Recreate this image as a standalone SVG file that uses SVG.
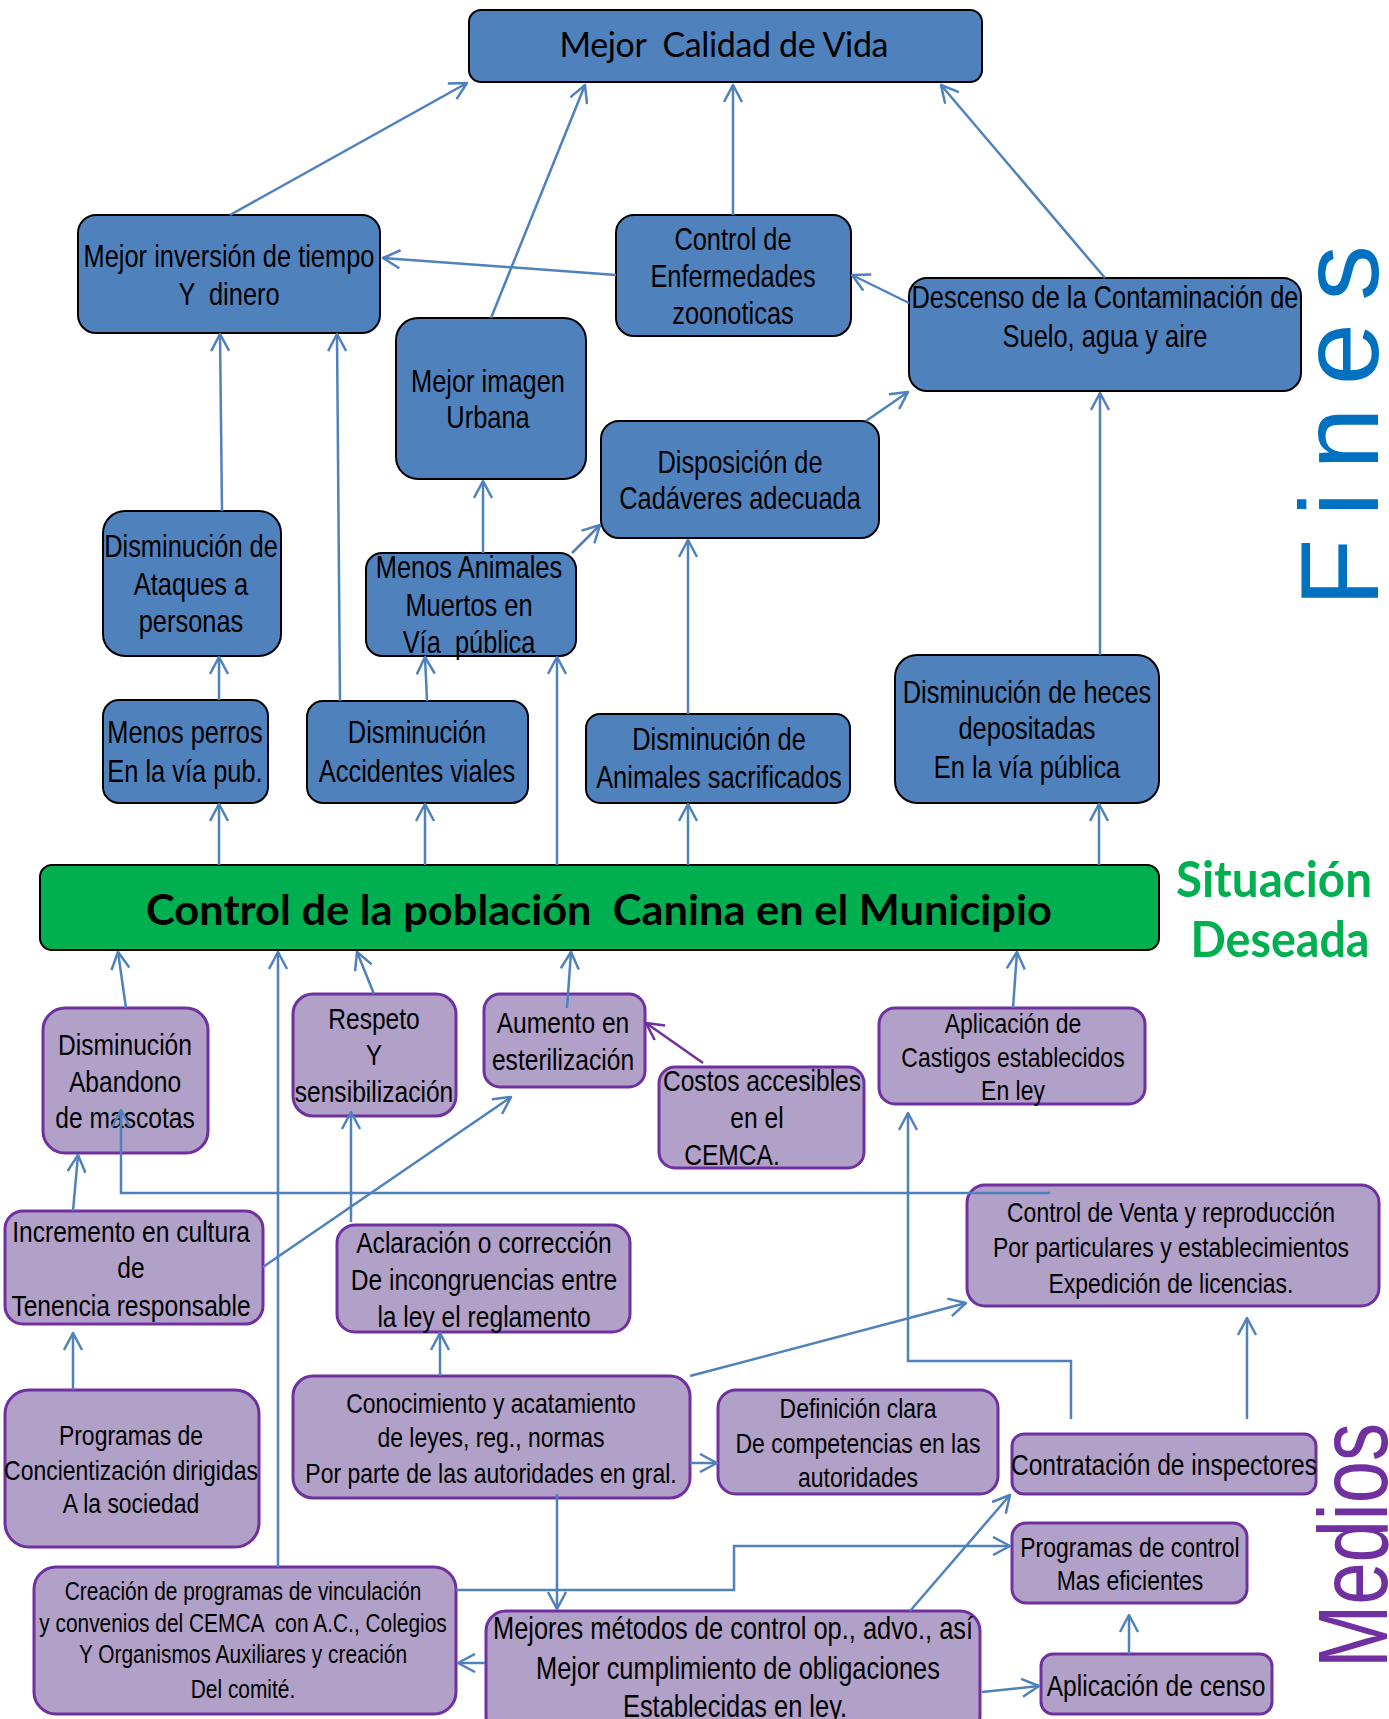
<svg xmlns="http://www.w3.org/2000/svg" width="1389" height="1719" viewBox="0 0 1389 1719">
<style>
.b rect{fill:#4F81BD;stroke:#000;stroke-width:2}
.p rect{fill:#B1A0C7;stroke:#7030A0;stroke-width:3}
.g rect{fill:#00B050;stroke:#000;stroke-width:2}
text{font-family:"Liberation Sans",Arial,sans-serif;font-size:30px;text-anchor:middle;fill:#000;white-space:pre}
.b text{font-size:31px}
.b text.n,.p text.n{transform-box:fill-box;transform-origin:center;transform:scaleX(0.82)}
.p text.s28{font-size:28px}
.p text.s25{font-size:25.5px}
.cal{font-family:Lato,"Liberation Sans",sans-serif}
#conn path{fill:none;stroke:#4F81BD;stroke-width:2.5;marker-end:url(#ab)}
#conn path.pu{stroke:#7030A0;marker-end:url(#ap)}
</style>
<defs>
<marker id="ab" viewBox="0 0 20 20" refX="18" refY="10" markerWidth="20" markerHeight="20" markerUnits="userSpaceOnUse" orient="auto"><path d="M1,1 L18,10 L1,19" fill="none" stroke="#4F81BD" stroke-width="2.5" stroke-linejoin="round"/></marker>
<marker id="ap" viewBox="0 0 20 20" refX="18" refY="10" markerWidth="20" markerHeight="20" markerUnits="userSpaceOnUse" orient="auto"><path d="M1,1 L18,10 L1,19" fill="none" stroke="#7030A0" stroke-width="2.5" stroke-linejoin="round"/></marker>
</defs>
<rect width="1389" height="1719" fill="#fff"/>

<g id="n-calidad" class="b"><rect x="469" y="10" width="513" height="72" rx="12"/><text class="cal" x="724" y="57" style="font-size:34px" textLength="329">Mejor  Calidad de Vida</text></g>
<g id="n-inversion" class="b"><rect x="78" y="215" width="302" height="118" rx="18"/><text class="n" x="229" y="267">Mejor inversión de tiempo</text><text class="n" x="229" y="305">Y  dinero</text></g>
<g id="n-enfermedades" class="b"><rect x="616" y="215" width="235" height="121" rx="18"/><text class="n" x="733" y="250">Control de</text><text class="n" x="733" y="287">Enfermedades</text><text class="n" x="733" y="324">zoonoticas</text></g>
<g id="n-descenso" class="b"><rect x="909" y="278" width="392" height="113" rx="18"/><text class="n" x="1105" y="308">Descenso de la Contaminación de</text><text class="n" x="1105" y="347">Suelo, agua y aire</text></g>
<g id="n-imagen" class="b"><rect x="396" y="318" width="190" height="161" rx="22"/><text class="n" x="488" y="392">Mejor imagen</text><text class="n" x="488" y="428">Urbana</text></g>
<g id="n-disposicion" class="b"><rect x="601" y="421" width="278" height="117" rx="18"/><text class="n" x="740" y="473">Disposición de</text><text class="n" x="740" y="509">Cadáveres adecuada</text></g>
<g id="n-ataques" class="b"><rect x="103" y="511" width="178" height="145" rx="22"/><text class="n" x="191" y="557">Disminución de</text><text class="n" x="191" y="595">Ataques a</text><text class="n" x="191" y="632">personas</text></g>
<g id="n-muertos" class="b"><rect x="366" y="553" width="210" height="103" rx="16"/><text class="n" x="469" y="578">Menos Animales</text><text class="n" x="469" y="616">Muertos en</text><text class="n" x="469" y="653">Vía  pública</text></g>
<g id="n-perros" class="b"><rect x="103" y="700" width="165" height="103" rx="16"/><text class="n" x="185" y="743">Menos perros</text><text class="n" x="185" y="782">En la vía pub.</text></g>
<g id="n-accidentes" class="b"><rect x="307" y="701" width="221" height="102" rx="16"/><text class="n" x="417" y="743">Disminución</text><text class="n" x="417" y="782">Accidentes viales</text></g>
<g id="n-sacrificados" class="b"><rect x="586" y="714" width="264" height="89" rx="14"/><text class="n" x="719" y="750">Disminución de</text><text class="n" x="719" y="788">Animales sacrificados</text></g>
<g id="n-heces" class="b"><rect x="895" y="655" width="264" height="148" rx="22"/><text class="n" x="1027" y="703">Disminución de heces</text><text class="n" x="1027" y="739">depositadas</text><text class="n" x="1027" y="778">En la vía pública</text></g>

<g id="n-control" class="g"><rect x="40" y="865" width="1119" height="85" rx="12"/><text class="cal" x="599" y="925" style="font-size:42px;font-weight:bold" textLength="906" lengthAdjust="spacingAndGlyphs">Control de la población  Canina en el Municipio</text></g>

<g id="n-abandono" class="p"><rect x="43" y="1008" width="165" height="145" rx="22"/><text class="n" x="125" y="1055">Disminución</text><text class="n" x="125" y="1092">Abandono</text><text class="n" x="125" y="1128">de mascotas</text></g>
<g id="n-respeto" class="p"><rect x="293" y="994" width="163" height="122" rx="20"/><text class="n" x="374" y="1029">Respeto</text><text class="n" x="374" y="1065">Y</text><text class="n" x="374" y="1102">sensibilización</text></g>
<g id="n-aumento" class="p"><rect x="484" y="994" width="161" height="93" rx="16"/><text class="n" x="563" y="1033">Aumento en</text><text class="n" x="563" y="1070">esterilización</text></g>
<g id="n-costos" class="p"><rect x="659" y="1067" width="205" height="101" rx="16"/><text class="n" x="762" y="1091">Costos accesibles</text><text class="n" x="757" y="1128">en el</text><text class="n" x="732" y="1165">CEMCA.</text></g>
<g id="n-castigos" class="p"><rect x="879" y="1008" width="266" height="96" rx="16"/><text class="n s28" x="1013" y="1033">Aplicación de</text><text class="n s28" x="1013" y="1067">Castigos establecidos</text><text class="n s28" x="1013" y="1100">En ley</text></g>
<g id="n-venta" class="p"><rect x="967" y="1185" width="412" height="121" rx="18"/><text class="n s28" x="1171" y="1222">Control de Venta y reproducción</text><text class="n s28" x="1171" y="1257">Por particulares y establecimientos</text><text class="n s28" x="1171" y="1293">Expedición de licencias.</text></g>
<g id="n-incremento" class="p"><rect x="5" y="1211" width="258" height="113" rx="18"/><text class="n" x="131" y="1242">Incremento en cultura</text><text class="n" x="131" y="1278">de</text><text class="n" x="131" y="1316">Tenencia responsable</text></g>
<g id="n-aclaracion" class="p"><rect x="337" y="1225" width="293" height="107" rx="18"/><text class="n" x="484" y="1253">Aclaración o corrección</text><text class="n" x="484" y="1290">De incongruencias entre</text><text class="n" x="484" y="1327">la ley el reglamento</text></g>
<g id="n-concientizacion" class="p"><rect x="5" y="1390" width="254" height="157" rx="24"/><text class="n s28" x="131" y="1445">Programas de</text><text class="n s28" x="131" y="1480">Concientización dirigidas</text><text class="n s28" x="131" y="1513">A la sociedad</text></g>
<g id="n-conocimiento" class="p"><rect x="293" y="1376" width="397" height="122" rx="20"/><text class="n s28" x="491" y="1413">Conocimiento y acatamiento</text><text class="n s28" x="491" y="1447">de leyes, reg., normas</text><text class="n s28" x="491" y="1483">Por parte de las autoridades en gral.</text></g>
<g id="n-definicion" class="p"><rect x="718" y="1390" width="280" height="104" rx="18"/><text class="n s28" x="858" y="1418">Definición clara</text><text class="n s28" x="858" y="1453">De competencias en las</text><text class="n s28" x="858" y="1487">autoridades</text></g>
<g id="n-inspectores" class="p"><rect x="1012" y="1434" width="304" height="60" rx="12"/><text class="n" x="1164" y="1475">Contratación de inspectores</text></g>
<g id="n-programas" class="p"><rect x="1012" y="1523" width="235" height="80" rx="14"/><text class="n s28" x="1130" y="1557">Programas de control</text><text class="n s28" x="1130" y="1590">Mas eficientes</text></g>
<g id="n-censo" class="p"><rect x="1041" y="1654" width="231" height="60" rx="12"/><text class="n" x="1156" y="1696">Aplicación de censo</text></g>
<g id="n-metodos" class="p"><rect x="486" y="1611" width="494" height="125" rx="20"/><text class="n" x="733" y="1639" style="font-size:31px">Mejores métodos de control op., advo., así</text><text class="n" x="738" y="1679" style="font-size:31px">Mejor cumplimiento de obligaciones</text><text class="n" x="735" y="1717" style="font-size:31px">Establecidas en ley.</text></g>
<g id="n-creacion" class="p"><rect x="34" y="1567" width="422" height="147" rx="22"/><text class="n s25" x="243" y="1600">Creación de programas de vinculación</text><text class="n s25" x="243" y="1632">y convenios del CEMCA  con A.C., Colegios</text><text class="n s25" x="243" y="1663">Y Organismos Auxiliares y creación</text><text class="n s25" x="243" y="1698">Del comité.</text></g>

<g id="conn">
<path d="M230,215 L467,83"/>
<path d="M491,318 L585,85"/>
<path d="M733,215 L733,85"/>
<path d="M1105,278 L941,85"/>
<path d="M616,275 L383,258"/>
<path d="M909,303 L852,275"/>
<path d="M866,421 L908,392"/>
<path d="M1100,655 L1100,393"/>
<path d="M222,511 L220,334"/>
<path d="M340,701 L337,334"/>
<path d="M483,553 L483,481"/>
<path d="M572,553 L600,525"/>
<path d="M688,714 L688,540"/>
<path d="M219,700 L219,657"/>
<path d="M427,701 L425,657"/>
<path d="M219,865 L219,804"/>
<path d="M425,865 L425,804"/>
<path d="M557,865 L557,657"/>
<path d="M688,865 L688,804"/>
<path d="M1099,865 L1099,804"/>
<path d="M126,1008 L118,952"/>
<path d="M278,1567 L278,952"/>
<path d="M374,994 L357,952"/>
<path d="M567,1008 L571,952"/>
<path d="M1013,1008 L1017,952"/>
<path class="pu" d="M703,1063 L646,1023"/>
<path d="M73,1211 L78,1155"/>
<path d="M263,1267 L511,1097"/>
<path d="M351,1222 L351,1112"/>
<path d="M1050,1193 L121,1193 L121,1110"/>
<path d="M1071,1419 L1071,1361 L908,1361 L908,1113"/>
<path d="M1247,1419 L1247,1318"/>
<path d="M690,1376 L966,1303"/>
<path d="M73,1390 L73,1333"/>
<path d="M440,1376 L440,1333"/>
<path d="M690,1463 L717,1463"/>
<path d="M557,1494 L557,1609"/>
<path d="M456,1590 L734,1590 L734,1546 L1010,1546"/>
<path d="M910,1611 L1010,1495"/>
<path d="M485,1663 L458,1663"/>
<path d="M982,1692 L1039,1686"/>
<path d="M1129,1654 L1129,1615"/>
</g>

<g id="labels">
<text class="cal" x="1274" y="897" style="font-size:50px;font-weight:bold;fill:#00B050" textLength="196" lengthAdjust="spacingAndGlyphs">Situación</text>
<text class="cal" x="1280" y="957" style="font-size:50px;font-weight:bold;fill:#00B050" textLength="179" lengthAdjust="spacingAndGlyphs">Deseada</text>
<text transform="translate(1378,607) rotate(-90)" x="0" y="0" style="font-size:112px;text-anchor:start;fill:#0070C0" textLength="362">Fines</text>
<text transform="translate(1387,1668) rotate(-90)" x="0" y="0" style="font-size:99px;text-anchor:start;fill:#7030A0" textLength="245" lengthAdjust="spacingAndGlyphs">Medios</text>
</g>
</svg>
